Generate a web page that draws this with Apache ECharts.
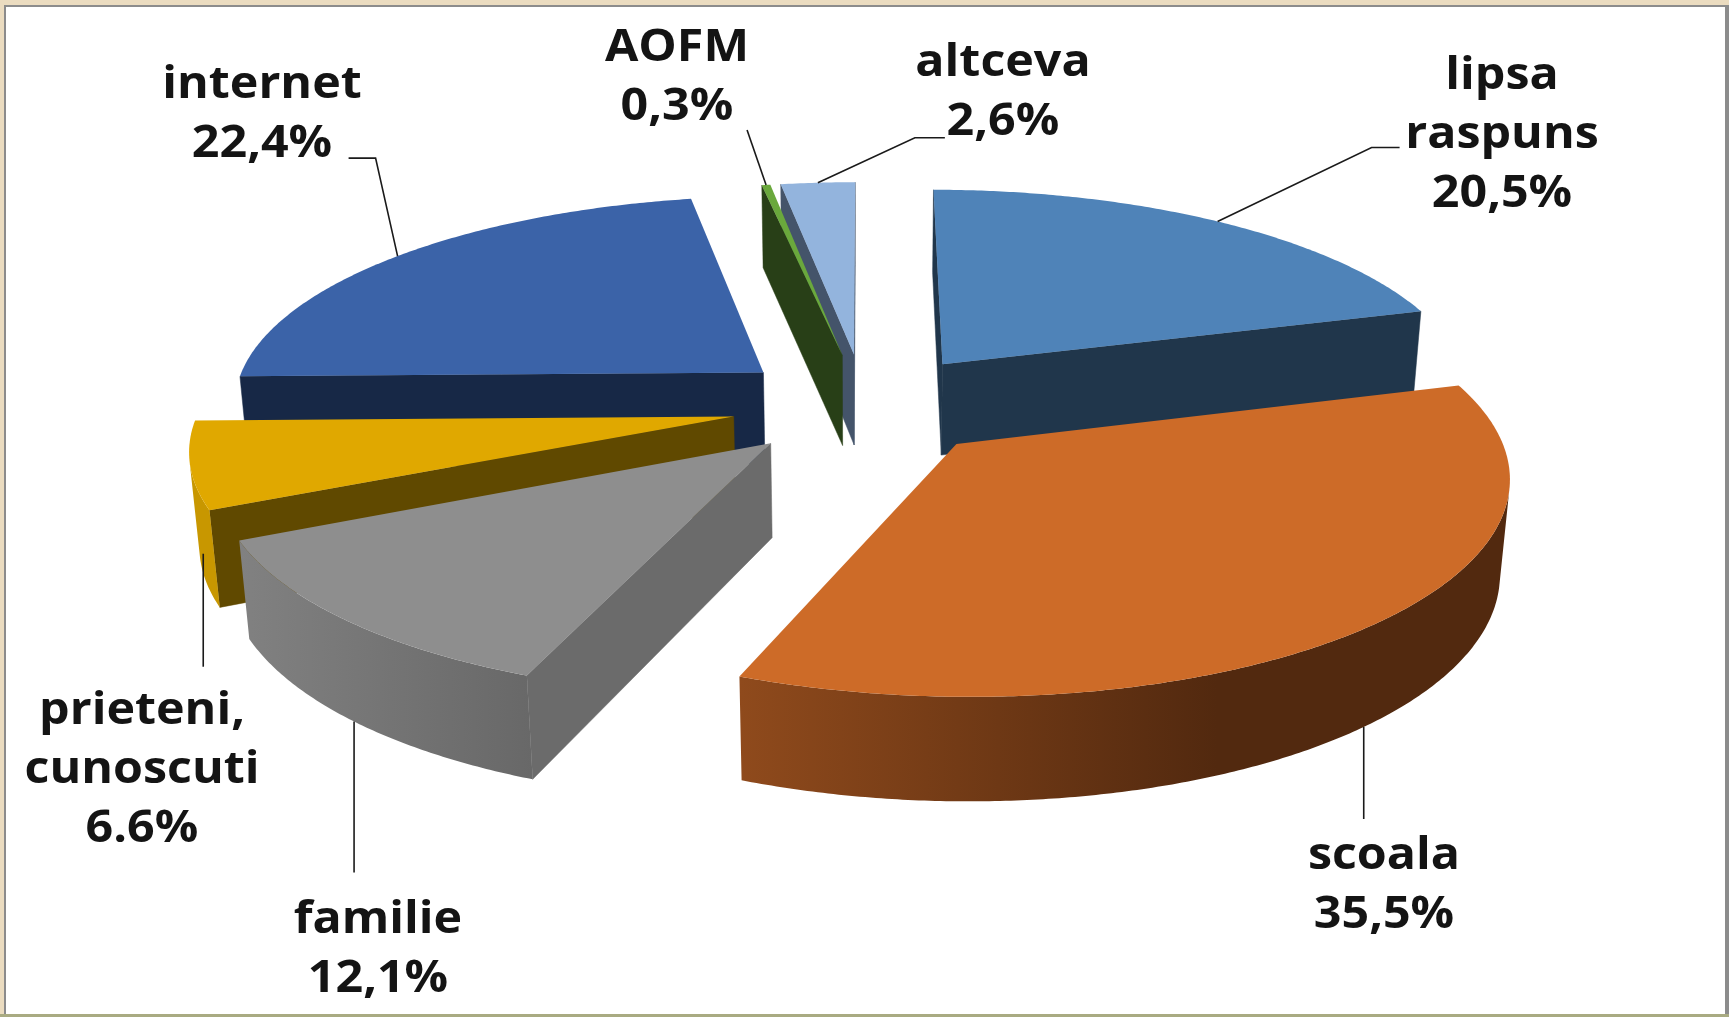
<!DOCTYPE html>
<html>
<head>
<meta charset="utf-8">
<title>Pie</title>
<script src="https://cdn.jsdelivr.net/npm/echarts@6/dist/echarts.min.js"></script>
<style>
  html, body { margin: 0; padding: 0; background: #fff; }
  #chart { width: 1729px; height: 1017px; }
</style>
</head>
<body>
<div id="chart"></div>
<script>
// data, clockwise from 12 o'clock
var categories = ['lipsa\nraspuns', 'scoala', 'familie', 'prieteni,\ncunoscuti', 'internet', 'AOFM', 'altceva'];
var values = [20.5, 35.5, 12.1, 6.6, 22.4, 0.3, 2.6];
var valueLabels = ['20,5%', '35,5%', '12,1%', '6.6%', '22,4%', '0,3%', '2,6%'];

// styles
var topColors = ['#4f83b8', '#cd6b28', '#8e8e8e', '#e0a800', '#3b63a8', '#6aa83c', '#93b4dd'];
var faceColors = ['#20364b', '#52290f', '#6b6b6b', '#604900', '#172846', '#283f17', '#44546a'];
var rimColors = [
  ['#20364b', '#20364b'], ['#8f4a1c', '#52290f'], ['#818181', '#686868'],
  ['#c89700', '#c89700'], ['#172846', '#172846'], ['#283f17', '#283f17'], ['#44546a', '#44546a']
];
var rimStop = [1, 0.62, 1, 1, 1, 1, 1];
var paintRank = [5, 6, 3, 2, 1, 4, 3.5];

// label layout: centre of text block, leader offsets from the rim anchor
var labelCenters = [[1502, 135], [1384, 886], [378, 950], [142, 770], [262, 115], [677, 78], [1003, 93]];
var leaderOffsets = [
  [[154, -74], [182, -74]], [[0, 92]], [[0, 151]], [[0, 113]],
  [[-22, -98], [-49, -98]], [[-19, -55]], [[97, -45], [127, -45]]
];
var leaderNudge = [0, 0.5, -0.2, -5.5, 0, 0, 0];
var leaderDepth = [0, 1, 1, 0.7, 0, 0, 0];

// projection of the tilted pie
var CX = 864.5, CY = 404.7, RX = 533, RY = 207.7, DEPTH = 94;
var PERSP = 0.133, PERSP_Z = 0.015, EXPLODE = 0.25;
var total = values.reduce(function (a, b) { return a + b; }, 0);

function project(wx, wy, wz) {
  var f = 1 / (1 + PERSP * wy + PERSP_Z * wz);
  return [CX + RX * wx * f, CY - RY * wy * f + DEPTH * wz * f];
}

function side(a, b, p) {
  return (b[0] - a[0]) * (p[1] - a[1]) - (b[1] - a[1]) * (p[0] - a[0]);
}

function renderItem(params, api) {
  var i = params.dataIndex;
  var before = 0;
  for (var k = 0; k < i; k++) before += values[k];
  var start = before / total * 360;
  var end = (before + api.value(0)) / total * 360;
  var mid = (start + end) / 2 * Math.PI / 180;
  var ox = EXPLODE * Math.sin(mid), oy = EXPLODE * Math.cos(mid);

  var rim = function (deg, z) {
    var r = deg * Math.PI / 180;
    return project(ox + Math.sin(r), oy + Math.cos(r), z);
  };
  var apexT = project(ox, oy, 0), apexB = project(ox, oy, 1);
  var rank = paintRank[i] * 10;
  var children = [];

  // top outline
  var steps = Math.max(2, Math.ceil((end - start) * 2));
  var topPts = [apexT], angles = [];
  for (var s = 0; s <= steps; s++) {
    var d = start + (end - start) * s / steps;
    angles.push(d);
    topPts.push(rim(d, 0));
  }

  // cut faces, only those turned to the viewer
  var inner = rim((start + end) / 2, 0);
  [start, end].forEach(function (d) {
    var t = rim(d, 0), b = rim(d, 1);
    if (side(apexT, t, inner) * side(apexT, t, b) < 0) {
      children.push({
        type: 'polygon', z2: rank,
        shape: { points: [apexT, t, b, apexB] },
        style: { fill: faceColors[i], stroke: faceColors[i], lineWidth: 0.5 }
      });
    }
  });

  // outer wall, visible run only
  var run = [];
  for (var n = 0; n < angles.length - 1; n++) {
    var p1 = rim(angles[n], 0), p2 = rim(angles[n + 1], 0), q = rim(angles[n], 1);
    if (side(p1, p2, apexT) * side(p1, p2, q) < 0) {
      if (!run.length) run.push(angles[n]);
      run.push(angles[n + 1]);
    }
  }
  if (run.length > 1) {
    var wall = run.map(function (d) { return rim(d, 0); })
      .concat(run.slice().reverse().map(function (d) { return rim(d, 1); }));
    children.push({
      type: 'polygon', z2: rank + 1,
      shape: { points: wall },
      style: {
        fill: new echarts.graphic.LinearGradient(0, 0, 1, 0, [
          { offset: 0, color: rimColors[i][0] },
          { offset: rimStop[i], color: rimColors[i][1] },
          { offset: 1, color: rimColors[i][1] }
        ])
      }
    });
  }

  children.push({
    type: 'polygon', z2: rank + 2,
    shape: { points: topPts },
    style: { fill: topColors[i] }
  });

  // leader line and label
  var anchor = rim((start + end) / 2 + leaderNudge[i], leaderDepth[i]);
  var line = [anchor].concat(leaderOffsets[i].map(function (o) {
    return [anchor[0] + o[0], anchor[1] + o[1]];
  }));
  children.push({
    type: 'polyline', z2: 100,
    shape: { points: line },
    style: { stroke: '#1a1a1a', lineWidth: 1.6, fill: null }
  });
  children.push({
    type: 'text', z2: 101,
    x: labelCenters[i][0], y: labelCenters[i][1],
    scaleX: 1.1,
    style: {
      text: categories[i] + '\n' + valueLabels[i],
      x: 0, y: 0,
      textAlign: 'center', textVerticalAlign: 'middle',
      font: 'bold 44px "Open Sans"', lineHeight: 59, fill: '#141414'
    }
  });

  return { type: 'group', children: children };
}

var chart = echarts.init(document.getElementById('chart'));
chart.setOption({
  animation: false,
  backgroundColor: '#ebdcc0',
  graphic: [
    { type: 'rect', z: -1, shape: { x: 4, y: 5, width: 1725, height: 1009 }, style: { fill: '#8c8c8c' } },
    { type: 'rect', z: -1, shape: { x: 6, y: 7, width: 1719, height: 1007 }, style: { fill: '#ffffff' } },
    { type: 'rect', z: -1, shape: { x: 0, y: 1014, width: 1729, height: 3 }, style: { fill: '#a9ab82' } }
  ],
  series: [{
    type: 'custom',
    coordinateSystem: 'none',
    renderItem: renderItem,
    clip: false,
    silent: true,
    data: categories.map(function (name, i) { return { name: name, value: [values[i]] }; })
  }]
});
</script>
</body>
</html>
